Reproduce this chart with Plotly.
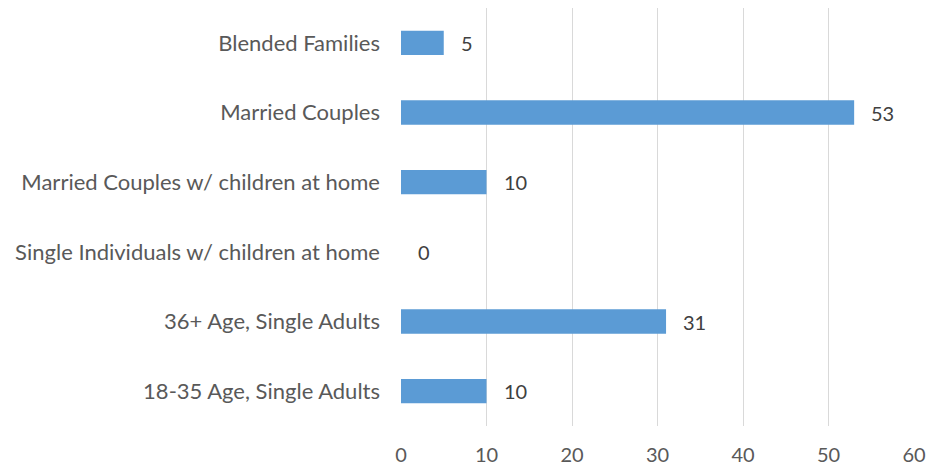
import plotly.graph_objects as go

categories = [
    "18-35 Age, Single Adults",
    "36+ Age, Single Adults",
    "Single Individuals w/ children at home",
    "Married Couples w/ children at home",
    "Married Couples",
    "Blended Families",
]
values = [10, 31, 0, 10, 53, 5]
x_ticks = [0, 10, 20, 30, 40, 50, 60]

FONT = "Lato, 'Open Sans', sans-serif"
BAR_COLOR = "#5B9BD5"

fig = go.Figure()
fig.add_trace(go.Bar(
    x=values,
    y=categories,
    orientation="h",
    marker=dict(color=BAR_COLOR, line=dict(width=0)),
    width=0.35,
    hoverinfo="skip",
))

annotations = [
    dict(x=v, y=c, text=str(v), xref="x", yref="y", showarrow=False,
         xanchor="left", yanchor="middle", xshift=15,
         font=dict(family=FONT, size=20, color="#404040"))
    for c, v in zip(categories, values)
]

fig.update_layout(
    width=946, height=472,
    margin=dict(l=393, r=40, t=0, b=54, autoexpand=False),
    paper_bgcolor="white", plot_bgcolor="white",
    showlegend=False,
    annotations=annotations,
    font=dict(family=FONT, size=22, color="#595959"),
    xaxis=dict(
        range=[0, 60], tickvals=x_ticks, ticktext=[str(t) for t in x_ticks],
        showgrid=True, gridcolor="#D9D9D9", gridwidth=1.3,
        zeroline=False, showline=False, ticks="",
        tickfont=dict(family=FONT, size=20, color="#595959"),
        ticklabelstandoff=15,
        fixedrange=True,
    ),
    yaxis=dict(
        categoryorder="array", categoryarray=categories,
        showgrid=False, zeroline=False, showline=False, ticks="",
        tickfont=dict(family=FONT, size=22, color="#595959"),
        ticklabelstandoff=20,
        fixedrange=True,
    ),
)

fig.write_html("out.html")
